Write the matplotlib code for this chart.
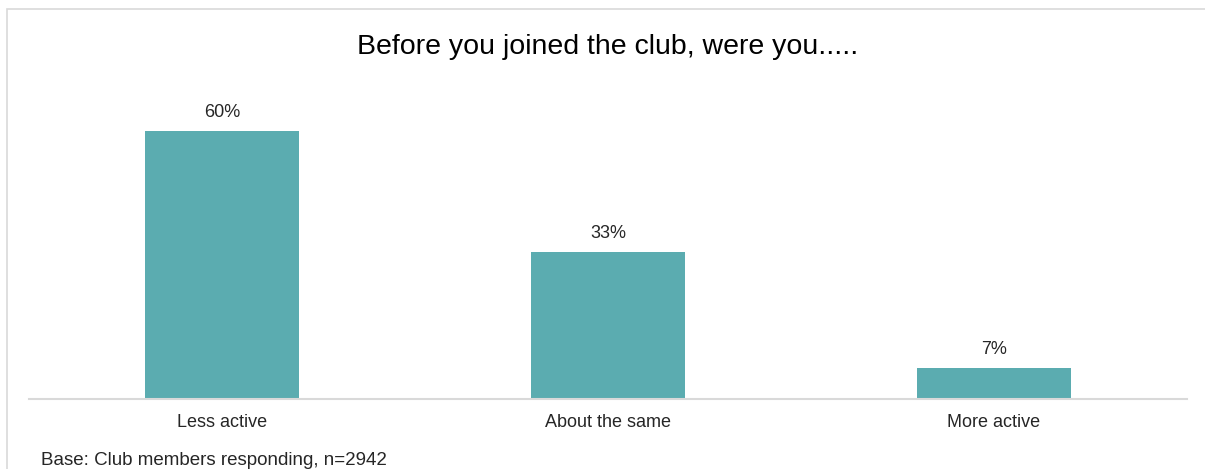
import matplotlib.pyplot as plt
from matplotlib.patches import Rectangle

plt.rcParams['font.family'] = ['Liberation Sans', 'DejaVu Sans']

categories = ["Less active", "About the same", "More active"]
shares = [60, 33, 7]
title = "Before you joined the club, were you....."
base_note = "Base: Club members responding, n=2942"

bar_colour = '#5BACB0'
text_colour = '#262626'
line_colour = '#D9D9D9'

fig = plt.figure(figsize=(12.05, 4.69), dpi=100)
W, H = 1205, 469

# outer chart frame (runs off the right and bottom edges)
fig.patches.append(Rectangle((7 / W, -0.1), 1.2, (469 - 9) / H + 0.1,
                             transform=fig.transFigure, fill=False,
                             edgecolor=line_colour, linewidth=1.2))

ax = fig.add_axes([29 / W, 70 / H, 1158 / W, 312.7 / H])
x = range(len(categories))
bars = ax.bar(x, shares, width=0.4, color=bar_colour)
ax.set_xlim(-0.5, len(categories) - 0.5)
ax.set_ylim(0, 70)

for rect, v in zip(bars, shares):
    ax.annotate(f"{v}%", (rect.get_x() + rect.get_width() / 2, v),
                xytext=(0, 10), textcoords='offset points',
                ha='center', va='baseline', fontsize=13, color=text_colour)

ax.set_xticks(list(x))
ax.set_xticklabels(categories, fontsize=13, color=text_colour)
ax.tick_params(axis='x', length=0, pad=11)
ax.set_yticks([])
for side in ['top', 'right', 'left']:
    ax.spines[side].set_visible(False)
ax.spines['bottom'].set_color(line_colour)
ax.spines['bottom'].set_linewidth(1.5)

fig.text(608 / W, (469 - 54) / H, title, ha='center', va='baseline',
         fontsize=20.5, color='black')
fig.text(41 / W, (469 - 465) / H, base_note, ha='left', va='baseline',
         fontsize=13.5, color=text_colour)

fig.savefig('out.png', dpi=100, facecolor='white')
